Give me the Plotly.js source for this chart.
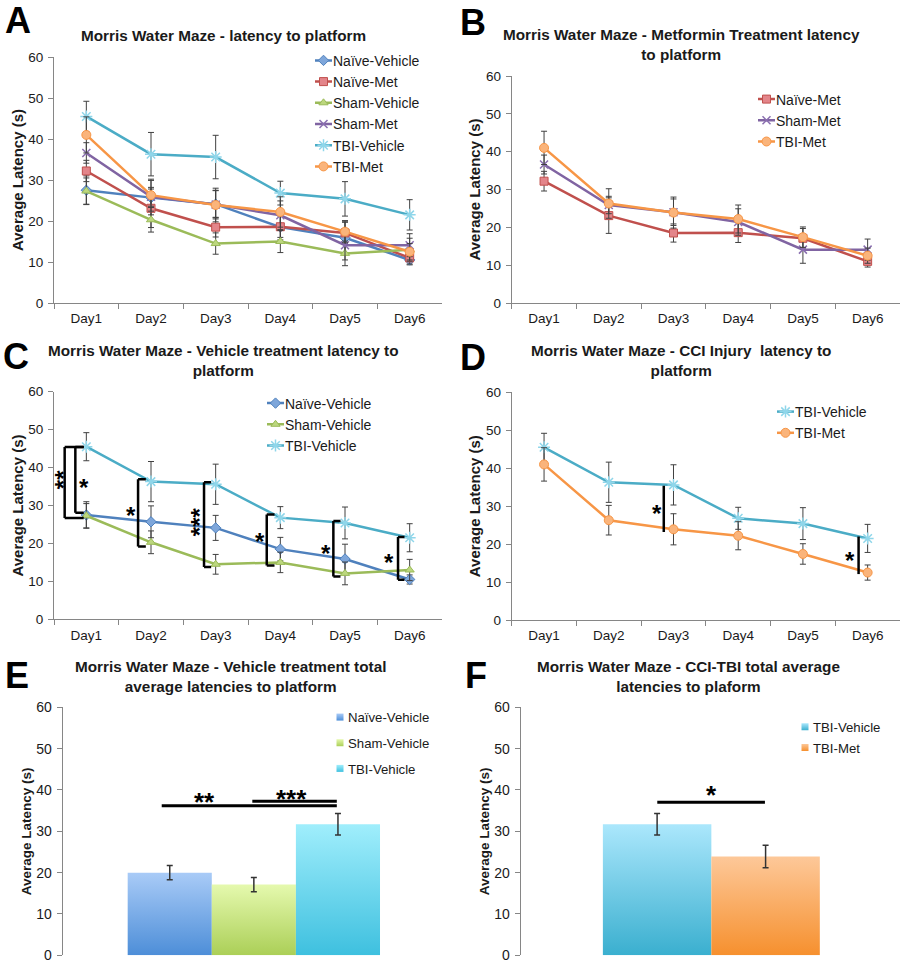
<!DOCTYPE html>
<html><head><meta charset="utf-8">
<script src="https://cdn.plot.ly/plotly-3.0.1.min.js"></script>
<style>html,body{margin:0;padding:0;background:#fff;overflow:hidden}</style>
</head><body>
<div id="chart" style="width:906px;height:966px"></div>
<script>
// ---------------- data ----------------
const days = ['Day1', 'Day2', 'Day3', 'Day4', 'Day5', 'Day6'];
const yTicks = [0, 10, 20, 30, 40, 50, 60];

const naiveVehicle    = [27.5, 25.7, 24.1, 18.5, 15.9, 10.5];
const naiveVehicleErr = [3.5, 4.2, 3.3, 3.1, 3.9, 1.2];
const naiveMet        = [32.2, 23.1, 18.5, 18.6, 17.1, 11.0];
const naiveMetErr     = [2.6, 4.7, 2.4, 2.6, 2.6, 1.5];
const shamVehicle     = [27.3, 20.3, 14.5, 15.0, 12.1, 13.0];
const shamVehicleErr  = [3.2, 3.0, 2.6, 2.7, 3.0, 2.8];
const shamMet         = [36.6, 25.9, 24.0, 21.4, 14.1, 14.1];
const shamMetErr      = [2.5, 2.3, 3.5, 3.5, 3.6, 2.8];
const tbiVehicle      = [45.5, 36.3, 35.6, 26.8, 25.4, 21.5];
const tbiVehicleErr   = [3.7, 5.3, 5.3, 2.9, 4.2, 3.7];
const tbiMet          = [41.0, 26.3, 23.9, 22.2, 17.4, 12.5];
const tbiMetErr       = [4.4, 3.9, 4.1, 3.7, 2.7, 2.0];

const vehicleGroups   = ['Naïve-Vehicle', 'Sham-Vehicle', 'TBI-Vehicle'];
const vehicleTotal    = [20.0, 17.1, 31.7];
const vehicleTotalErr = [1.7, 1.7, 2.6];
const tbiGroups       = ['TBI-Vehicle', 'TBI-Met'];
const tbiTotal        = [31.7, 23.9];
const tbiTotalErr     = [2.6, 2.7];

// ---------------- styling ----------------
const W = 906, H = 966;
const FONT = 'Liberation Sans, Arial, Helvetica, sans-serif';
const TXT = '#1a1a1a';
const AXC = '#868686';
const px = v => v / W, py = v => 1 - v / H;

const SERIES = {
  'Naïve-Vehicle': [naiveVehicle, naiveVehicleErr],
  'Naïve-Met':     [naiveMet, naiveMetErr],
  'Sham-Vehicle':  [shamVehicle, shamVehicleErr],
  'Sham-Met':      [shamMet, shamMetErr],
  'TBI-Vehicle':   [tbiVehicle, tbiVehicleErr],
  'TBI-Met':       [tbiMet, tbiMetErr]
};
const STYLE = {
  'Naïve-Vehicle': {line: '#4f81bd', symbol: 'diamond',       fill: '#7ea6da', size: 8},
  'Naïve-Met':     {line: '#c0504d', symbol: 'square',        fill: '#e3858a', size: 8},
  'Sham-Vehicle':  {line: '#9bbb59', symbol: 'triangle-up',   fill: '#bcd77e', size: 8},
  'Sham-Met':      {line: '#8064a2', symbol: 'x-thin-open',   fill: '#8a6fb0', size: 8},
  'TBI-Vehicle':   {line: '#4bacc6', symbol: 'asterisk-open', fill: '#8fd6ea', size: 10},
  'TBI-Met':       {line: '#f79646', symbol: 'circle',        fill: '#fab47b', size: 9}
};
const BARCOL = {
  'E:Naïve-Vehicle': ['#a9cbf7', '#4d8ed8'],
  'E:Sham-Vehicle':  ['#e5f9ae', '#abcf57'],
  'E:TBI-Vehicle':   ['#a0eefc', '#3ec0df'],
  'F:TBI-Vehicle':   ['#abe7fc', '#3aafcf'],
  'F:TBI-Met':       ['#fdc899', '#f6902e']
};

// panel plot areas in pixels
const PANELS = {
  1: {x: [54, 442],    y: [57, 303]},
  2: {x: [511.7, 900], y: [76, 303]},
  3: {x: [54, 442],    y: [391.7, 619.3]},
  4: {x: [511.7, 900], y: [392.3, 620]},
  5: {x: [62.7, 445],  y: [707.3, 955.3]},
  6: {x: [520.7, 902], y: [707.3, 955.3]}
};
const xid = p => p === 1 ? 'x' : 'x' + p;
const yid = p => p === 1 ? 'y' : 'y' + p;
const lid = p => p === 1 ? 'legend' : 'legend' + p;
const axKey = (c, p) => c + 'axis' + (p === 1 ? '' : p);

// ---------------- traces ----------------
const traces = [];
function lineTrace(name, p) {
  const s = STYLE[name], d = SERIES[name];
  const open = s.symbol.endsWith('open');
  return {
    type: 'scatter', mode: 'lines+markers', name: name, x: days, y: d[0],
    xaxis: xid(p), yaxis: yid(p), legend: lid(p), legendgroup: 'g' + p + name,
    line: {color: s.line, width: 2.5},
    marker: {symbol: s.symbol, size: s.size, color: s.fill,
             line: {color: open ? s.fill : s.line, width: open ? 1.5 : 1}},
    error_y: {type: 'data', array: d[1], color: '#404040', thickness: 1, width: 3},
    hoverinfo: 'skip'
  };
}
['Naïve-Vehicle', 'Naïve-Met', 'Sham-Vehicle', 'Sham-Met', 'TBI-Vehicle', 'TBI-Met'].forEach(n => traces.push(lineTrace(n, 1)));
['Naïve-Met', 'Sham-Met', 'TBI-Met'].forEach(n => traces.push(lineTrace(n, 2)));
['Naïve-Vehicle', 'Sham-Vehicle', 'TBI-Vehicle'].forEach(n => traces.push(lineTrace(n, 3)));
['TBI-Vehicle', 'TBI-Met'].forEach(n => traces.push(lineTrace(n, 4)));

function barTraces(groups, vals, errs, p, tag) {
  groups.forEach((g, i) => {
    const c = BARCOL[tag + ':' + g];
    traces.push({
      type: 'bar', name: g, x: ['Total'], y: [vals[i]], uid: tag + ':' + g,
      xaxis: xid(p), yaxis: yid(p), legend: lid(p), legendgroup: 'g' + p + g,
      marker: {color: c[1], line: {width: 0}},
      error_y: {type: 'data', array: [errs[i]], color: '#333333', thickness: 1.5, width: 3},
      hoverinfo: 'skip'
    });
  });
}
barTraces(vehicleGroups, vehicleTotal, vehicleTotalErr, 5, 'E');
barTraces(tbiGroups, tbiTotal, tbiTotalErr, 6, 'F');

// ---------------- layout ----------------
const layout = {
  width: W, height: H, margin: {l: 0, r: 0, t: 0, b: 0},
  paper_bgcolor: '#fff', plot_bgcolor: '#fff',
  font: {family: FONT, color: TXT},
  barmode: 'group', bargap: 0.34, bargroupgap: 0,
  showlegend: true, hovermode: false,
  annotations: [], shapes: []
};

for (let p = 1; p <= 6; p++) {
  const d = PANELS[p], bar = p >= 5;
  const tf = bar ? 14 : 13.5;
  layout[axKey('x', p)] = {
    domain: [px(d.x[0]), px(d.x[1])], anchor: yid(p), type: 'category',
    showline: !bar, linecolor: AXC, linewidth: 1, mirror: false,
    ticks: bar ? '' : 'outside', tickson: 'boundaries', ticklen: 5, tickcolor: AXC, tickwidth: 1,
    showgrid: false, zeroline: false, showticklabels: !bar, ticklabelstandoff: 3,
    tickfont: {family: FONT, size: 13.5, color: TXT}, fixedrange: true,
    range: p === 5 ? [-0.5, 0.5] : (p === 6 ? [-0.58, 0.58] : [-0.5, 5.5])
  };
  layout[axKey('y', p)] = {
    domain: [py(d.y[1]), py(d.y[0])], anchor: xid(p), range: [0, 60],
    tickvals: yTicks, showline: true, linecolor: AXC, linewidth: 1,
    ticks: 'outside', ticklen: 5, tickcolor: AXC, tickwidth: 1, ticklabelstandoff: 2,
    showgrid: false, zeroline: false, fixedrange: true,
    tickfont: {family: FONT, size: tf, color: TXT},
    title: {text: 'Average Latency (s)', standoff: 1,
            font: {family: FONT, size: bar ? 13.5 : 15, weight: 'bold', color: TXT}}
  };
}

function legendAt(xLeft, yTop, size, gap) {
  return {x: px(xLeft), y: py(yTop), xanchor: 'left', yanchor: 'top',
          bgcolor: 'rgba(0,0,0,0)', borderwidth: 0, tracegroupgap: gap,
          font: {family: FONT, size: size, color: TXT}};
}
layout.legend  = legendAt(293, 44.8, 14, 0);
layout.legend2 = legendAt(736, 83.5, 14, 0);
layout.legend3 = legendAt(245, 387.5, 14, 0);
layout.legend4 = legendAt(755, 396, 14, 0);
layout.legend5 = legendAt(308, 702, 13.2, 5.5);
layout.legend6 = legendAt(773, 711.7, 13.2, 0.5);

// panel letters and titles
const LETTERS = [['A', 17.5, 21], ['B', 473, 22], ['C', 15.5, 356.5], ['D', 473.5, 357], ['E', 16.5, 675], ['F', 476, 675]];
LETTERS.forEach(l => layout.annotations.push({
  text: l[0], x: px(l[1]), y: py(l[2]), xref: 'paper', yref: 'paper', showarrow: false,
  xanchor: 'center', yanchor: 'middle', font: {family: FONT, size: 36, weight: 'bold', color: '#000'}
}));
const TITLES = [
  ['Morris Water Maze - latency to platform', 223, 35],
  ['Morris Water Maze - Metformin Treatment latency<br>to platform', 681, 44],
  ['Morris Water Maze - Vehicle treatment latency to<br>platform', 223, 360],
  ['Morris Water Maze - CCI Injury\u00a0 latency to<br>platform', 681, 361],
  ['Morris Water Maze - Vehicle treatment total<br>average latencies to platform', 230, 676],
  ['Morris Water Maze - CCI-TBI total average<br>latencies to plaform', 688, 676]
];
TITLES.forEach(t => layout.annotations.push({
  text: t[0], x: px(t[1]), y: py(t[2]), xref: 'paper', yref: 'paper', showarrow: false,
  xanchor: 'center', yanchor: 'middle', align: 'center',
  font: {family: FONT, size: 15.3, weight: 'bold', color: TXT}
}));

// significance marks
function seg(p, x0, y0, x1, y1, w) {
  layout.shapes.push({type: 'line', xref: xid(p), yref: yid(p), x0: x0, y0: y0, x1: x1, y1: y1,
                      line: {color: '#000', width: w || 2.5}});
}
function star(p, x, y, t, size, rot) {
  layout.annotations.push({text: t, x: x, y: y, xref: xid(p), yref: yid(p), showarrow: false,
    xanchor: 'center', yanchor: 'middle', textangle: rot ? -90 : 0,
    xshift: rot ? 5 : 0, yshift: rot ? 0 : -5,
    font: {family: FONT, size: size, weight: 'bold', color: '#000'}});
}
const bracketsC = [
  [-0.335, -0.04, 26.7, 45.4], [-0.17, -0.04, 28.1, 45.4], [0.80, 0.92, 19.2, 36.9],
  [1.82, 1.93, 13.8, 36.1], [2.79, 2.91, 14.2, 27.6], [3.82, 3.93, 11.3, 25.9], [4.82, 4.92, 10.4, 21.7]
];
bracketsC.forEach(b => { seg(3, b[0], b[2], b[0], b[3]); seg(3, b[0], b[2], b[1], b[2]); seg(3, b[0], b[3], b[1], b[3]); });
const starsC = [[-0.437, 36.7, '**', 1], [-0.03, 36.0, '*', 0], [0.69, 28.8, '*', 0], [1.67, 25.7, '***', 1],
                [2.68, 21.8, '*', 0], [3.70, 18.7, '*', 0], [4.68, 16.3, '*', 0]];
starsC.forEach(s => star(3, s[0], s[1], s[2], 24, s[3]));
[[1.85, 23.2, 35.4], [4.86, 12.1, 22.0]].forEach(b => seg(4, b[0], b[1], b[0], b[2]));
[[1.74, 29.4], [4.73, 17.1]].forEach(s => star(4, s[0], s[1], '*', 24, 0));
[[-0.241, 0.217, 36.2], [-0.004, 0.217, 37.3]].forEach(b => seg(5, b[0], b[2], b[1], b[2], 3));
[[-0.128, 38.4, '**'], [0.099, 39.0, '***']].forEach(s => star(5, s[0], s[1], s[2], 26, 0));
seg(6, -0.1645, 37.0, 0.163, 37.0, 3);
star(6, 0, 40.0, '*', 26, 0);

// ---------------- draw ----------------
const NS = 'http://www.w3.org/2000/svg';
const gradId = {};
function ensureGradients(gd) {
  const svg = gd.querySelector('svg.main-svg');
  if (!svg || svg.querySelector('#bargrad0')) return;
  let defs = svg.querySelector('defs');
  if (!defs) { defs = document.createElementNS(NS, 'defs'); svg.insertBefore(defs, svg.firstChild); }
  Object.keys(BARCOL).forEach((k, i) => {
    const g = document.createElementNS(NS, 'linearGradient');
    g.setAttribute('id', 'bargrad' + i);
    g.setAttribute('x1', '0'); g.setAttribute('y1', '0'); g.setAttribute('x2', '0'); g.setAttribute('y2', '1');
    BARCOL[k].forEach((c, j) => {
      const st = document.createElementNS(NS, 'stop');
      st.setAttribute('offset', j ? '1' : '0'); st.setAttribute('stop-color', c);
      g.appendChild(st);
    });
    defs.appendChild(g);
    gradId[k] = 'url(#bargrad' + i + ')';
  });
}
function traceOf(node) {
  let d = node && node.__data__;
  for (let i = 0; i < 3 && Array.isArray(d); i++) d = d[0];
  return d && d.trace ? d.trace : null;
}
function polish(gd) {
  ensureGradients(gd);
  // vertical gradient fills on bars (light top, darker bottom)
  gd.querySelectorAll('.barlayer .trace').forEach(el => {
    const tr = traceOf(el);
    if (tr && gradId[tr.uid]) el.querySelectorAll('.point path').forEach(p => { p.style.fill = gradId[tr.uid]; });
  });
  // compact legend swatches: short line with the marker just before the text, small squares for bars
  gd.querySelectorAll('g.traces').forEach(item => {
    const tr = traceOf(item);
    item.querySelectorAll('.legendlines path').forEach(p => p.setAttribute('d', 'M22,0h17'));
    item.querySelectorAll('.legendpoints path').forEach(p => {
      if (p.classList.contains('scatterpts')) {
        p.setAttribute('transform', 'translate(30.5,0)');
      } else if (p.classList.contains('legendbar') || /H-6V-6/.test(p.getAttribute('d') || '')) {
        p.setAttribute('d', 'M3.5,3.5H-3.5V-3.5H3.5Z');
        p.setAttribute('transform', 'translate(32,0)');
        if (tr && gradId[tr.uid]) p.style.fill = gradId[tr.uid];
      }
    });
  });
}
Plotly.newPlot('chart', traces, layout, {staticPlot: true, displayModeBar: false}).then(gd => {
  polish(gd);
  gd.on('plotly_afterplot', () => polish(gd));
  requestAnimationFrame(() => polish(gd));
  setTimeout(() => polish(gd), 30);
  setTimeout(() => polish(gd), 150);
});
</script>
</body></html>
